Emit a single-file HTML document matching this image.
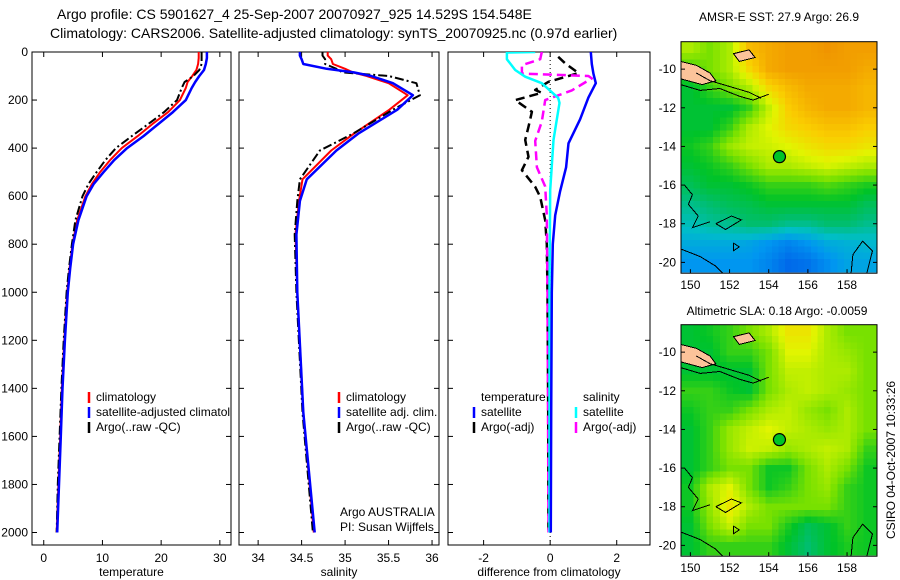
<!DOCTYPE html>
<html><head><meta charset="utf-8">
<style>
html,body{margin:0;padding:0;background:#fff;}
svg{display:block;font-family:"Liberation Sans",sans-serif;}
</style></head>
<body>
<svg id="fig" width="900" height="580" viewBox="0 0 900 580" xmlns="http://www.w3.org/2000/svg">
<rect width="900" height="580" fill="#fff"/>
<text x="57" y="19" font-size="14">Argo profile: CS 5901627_4 25-Sep-2007 20070927_925 14.529S 154.548E</text>
<text x="50" y="38" font-size="14">Climatology: CARS2006. Satellite-adjusted climatology: synTS_20070925.nc (0.97d earlier)</text>
<text x="779" y="21" font-size="12" text-anchor="middle">AMSR-E SST: 27.9  Argo: 26.9</text>
<text x="777" y="315" font-size="12" text-anchor="middle">Altimetric SLA: 0.18  Argo: -0.0059</text>
<text transform="translate(895,460) rotate(-90)" font-size="12" text-anchor="middle">CSIRO 04-Oct-2007 10:33:26</text>
<g id="plots"></g>
</svg>
<script>
// ---------- data ----------
const tDepth = [0,25,50,75,100,125,150,200,250,300,350,400,450,500,550,600,700,800,900,1000,1200,1400,1600,1800,2000];
const tSat   = [27.8,27.8,27.6,27.3,26.5,25.8,25.2,24.2,22,19.5,17,14.2,12,10.2,8.5,7.3,5.9,5.0,4.5,4.1,3.6,3.2,2.9,2.6,2.3];
const tClim  = [26.4,26.4,26.3,26.0,25.3,24.5,24.2,23.2,21.2,18.5,16,13.3,11.3,9.6,8.2,7.1,5.7,4.9,4.4,4.0,3.5,3.1,2.8,2.5,2.2];
const tArgo  = [26.9,26.9,26.9,26.5,25.5,24,23.5,22.7,20.5,17.8,15,12.3,10.5,9,7.6,6.6,5.4,4.8,4.3,3.9,3.4,3.0,2.7,2.4,2.2];

const sDepth = [0,15,30,50,70,85,100,130,180,240,340,410,530,620,760,1000,1500,2000];
const sSat   = [34.48,34.48,34.5,34.52,34.79,35.1,35.3,35.55,35.78,35.6,35.15,34.9,34.56,34.48,34.44,34.45,34.52,34.65];
const sClim  = [34.80,34.80,34.84,34.86,35.0,35.09,35.25,35.5,35.72,35.51,35.1,34.84,34.51,34.47,34.43,34.45,34.52,34.64];
const sArgo  = [34.74,34.74,34.77,34.77,34.9,34.97,35.5,35.82,35.86,35.55,35.09,34.71,34.48,34.45,34.42,34.44,34.51,34.63];

const dTSatDepth = [0,50,90,130,190,280,380,480,580,680,800,1000,1500,2000];
const dTSat      = [1.22,1.25,1.3,1.37,1.15,0.9,0.55,0.48,0.3,0.15,0.08,0.05,0.03,0.02];
const dTArgoDepth = [20,47,88,124,158,170,200,249,311,366,436,492,561,603,700,800,1000,1500,2000];
const dTArgo      = [0.24,0.45,0.85,-0.05,-0.45,-0.25,-1.05,-0.55,-0.65,-0.75,-0.65,-0.85,-0.45,-0.3,-0.15,-0.1,-0.08,-0.06,-0.05];
const dSSatDepth = [0,2,30,75,103,130,191,212,366,575,1000,2000];
const dSSat      = [-0.45,-1.3,-1.3,-1.05,-0.75,-0.25,0.24,0.28,0.1,0.0,-0.02,-0.02];
const dSArgoDepth = [0,30,55,90,100,110,160,200,290,370,480,560,680,1000,2000];
const dSArgo      = [-0.25,-0.3,-0.85,-0.85,1.15,1.25,0.65,-0.15,-0.25,-0.45,-0.4,-0.15,-0.1,-0.08,-0.05];

const depthTicks = [0,200,400,600,800,1000,1200,1400,1600,1800,2000];
const tempTicks = [0,10,20,30];
const salTicks = [34,34.5,35,35.5,36];
const diffTicks = [-2,0,2];
const lonTicks = [150,152,154,156,158];
const latTicks = [-10,-12,-14,-16,-18,-20];

const sstGrid = [
[0.6,0.55,0.6,0.75,0.78,0.8,0.8,0.82,0.8,0.8],
[0.5,0.55,0.6,0.7,0.78,0.8,0.8,0.8,0.8,0.78],
[0.45,0.5,0.55,0.6,0.7,0.75,0.78,0.78,0.78,0.76],
[0.45,0.45,0.45,0.5,0.62,0.72,0.76,0.78,0.78,0.76],
[0.45,0.45,0.5,0.6,0.65,0.7,0.72,0.74,0.74,0.72],
[0.47,0.5,0.58,0.62,0.63,0.65,0.68,0.7,0.7,0.68],
[0.45,0.47,0.5,0.55,0.6,0.6,0.62,0.64,0.62,0.6],
[0.42,0.45,0.45,0.47,0.5,0.5,0.5,0.52,0.5,0.48],
[0.38,0.4,0.42,0.43,0.45,0.45,0.45,0.45,0.45,0.42],
[0.35,0.37,0.38,0.4,0.4,0.38,0.38,0.4,0.4,0.38],
[0.31,0.31,0.31,0.3,0.28,0.26,0.28,0.31,0.32,0.33],
[0.28,0.28,0.28,0.28,0.26,0.23,0.24,0.27,0.3,0.3]];
const slaGrid = [
[0.45,0.47,0.5,0.55,0.6,0.68,0.68,0.6,0.55,0.55],
[0.45,0.45,0.5,0.5,0.55,0.65,0.65,0.6,0.58,0.55],
[0.45,0.45,0.45,0.45,0.55,0.62,0.62,0.6,0.6,0.55],
[0.5,0.5,0.47,0.45,0.55,0.6,0.62,0.6,0.58,0.55],
[0.47,0.5,0.5,0.55,0.6,0.62,0.58,0.55,0.6,0.55],
[0.45,0.5,0.58,0.62,0.65,0.62,0.6,0.58,0.6,0.55],
[0.45,0.5,0.58,0.63,0.62,0.58,0.6,0.62,0.6,0.5],
[0.45,0.5,0.55,0.55,0.47,0.47,0.55,0.6,0.55,0.47],
[0.47,0.6,0.65,0.55,0.47,0.5,0.55,0.58,0.5,0.47],
[0.47,0.58,0.68,0.6,0.55,0.55,0.55,0.55,0.5,0.47],
[0.45,0.55,0.62,0.55,0.55,0.48,0.42,0.45,0.5,0.47],
[0.45,0.5,0.5,0.5,0.5,0.45,0.4,0.45,0.48,0.47]];
const argoLon = 154.548, argoLat = -14.529;

// ---------- helpers ----------
const NS='http://www.w3.org/2000/svg';
const root=document.getElementById('plots');
function mk(tag,attrs,parent){const e=document.createElementNS(NS,tag);for(const k in attrs)e.setAttribute(k,attrs[k]);(parent||root).appendChild(e);return e;}
const Y0=52, Y1=545, DMAX=2052;
const yD=d=>Y0+d*(Y1-Y0)/DMAX;

function panel(name,x0,x1,vmin,vmax,ticks,label,showY){
  const g=mk('g',{});
  
  
  const xv=v=>x0+(v-vmin)*(x1-x0)/(vmax-vmin);
  const fr=mk('rect',{x:x0,y:Y0,width:x1-x0,height:Y1-Y0,fill:'none',stroke:'#000','stroke-width':1},g);
  
  
  ticks.forEach(t=>{const x=xv(t);
    mk('line',{x1:x,x2:x,y1:Y0,y2:Y0+5,stroke:'#000'},g);
    mk('line',{x1:x,x2:x,y1:Y1,y2:Y1-5,stroke:'#000'},g);
    const tx=mk('text',{x:x,y:Y1+17,'font-size':12,'text-anchor':'middle'},g);tx.textContent=t;
    
    
  });
  depthTicks.forEach(d=>{const y=yD(d);
    mk('line',{x1:x0,x2:x0+5,y1:y,y2:y,stroke:'#000'},g);
    mk('line',{x1:x1,x2:x1-5,y1:y,y2:y,stroke:'#000'},g);
    if(showY){const tx=mk('text',{x:x0-4,y:y+4,'font-size':12,'text-anchor':'end'},g);tx.textContent=d;
      
      }
  });
  const lt=mk('text',{x:(x0+x1)/2,y:Y1+31,'font-size':12,'text-anchor':'middle'},g);lt.textContent=label;
  
  
  const cid='clip'+name;
  const cp=mk('clipPath',{id:cid},g);mk('rect',{x:x0,y:Y0,width:x1-x0,height:Y1-Y0},cp);
  const lines=mk('g',{'clip-path':'url(#'+cid+')'},g);
  return {g,xv,lines};
}
function series(p,depths,vals,color,w,dash,nm){
  const pts=depths.map((d,i)=>p.xv(vals[i]).toFixed(1)+','+yD(d).toFixed(1)).join(' ');
  const a={points:pts,fill:'none',stroke:color,'stroke-width':w,'stroke-linejoin':'round'};
  if(dash)a['stroke-dasharray']=dash;
  const e=mk('polyline',a,p.lines);
  
  
}
function legend(g,x,y,color,txt,nm){
  mk('line',{x1:x,x2:x,y1:y-9,y2:y+2,stroke:color,'stroke-width':2.5},g);
  const t=mk('text',{x:x+7,y:y,'font-size':12},g);t.textContent=txt;
  
  
}

// Temperature panel
const pT=panel('temperature-panel',32,231,-2,31.9,tempTicks,'temperature',true);
series(pT,tDepth,tClim,'#f00',2,null,'temp-climatology-line');
series(pT,tDepth,tArgo,'#000',2,'9,3,2,3','temp-argo-line');
series(pT,tDepth,tSat,'#00f',2.5,null,'temp-satellite-line');
const lgT=mk('g',{'clip-path':'url(#cliptemperature-panel)'},pT.g);
legend(lgT,89,401,'#f00','climatology','legend-climatology');
legend(lgT,89,416,'#00f','satellite-adjusted climatology','legend-satellite');
legend(lgT,89,431,'#000','Argo(..raw -QC)','legend-argo');

// Salinity panel
const pS=panel('salinity-panel',239,439,33.78,36.08,salTicks,'salinity',false);
series(pS,sDepth,sClim,'#f00',2,null,'sal-climatology-line');
series(pS,sDepth,sArgo,'#000',2,'9,3,2,3','sal-argo-line');
series(pS,sDepth,sSat,'#00f',2.5,null,'sal-satellite-line');
legend(pS.g,339,401,'#f00','climatology','legend-climatology');
legend(pS.g,339,416,'#00f','satellite adj. clim.','legend-satellite');
legend(pS.g,339,431,'#000','Argo(..raw -QC)','legend-argo');
let t1=mk('text',{x:340,y:516,'font-size':12},pS.g);t1.textContent='Argo AUSTRALIA';


let t2=mk('text',{x:340,y:531,'font-size':12},pS.g);t2.textContent='PI: Susan Wijffels';



// Difference panel
const pD=panel('difference-panel',448,650,-3.07,3.0,diffTicks,'difference from climatology',false);
const zl=mk('line',{x1:pD.xv(0),x2:pD.xv(0),y1:Y0,y2:Y1,stroke:'#000','stroke-width':1,'stroke-dasharray':'1,3'},pD.lines);


series(pD,dTArgoDepth,dTArgo,'#000',2.5,'9,5','diff-temp-argo-line');
series(pD,dSArgoDepth,dSArgo,'#f0f',2.5,'9,5','diff-sal-argo-line');
series(pD,dSSatDepth,dSSat,'#0ff',2.5,null,'diff-sal-satellite-line');
series(pD,dTSatDepth,dTSat,'#00f',2.5,null,'diff-temp-satellite-line');
let h1=mk('text',{x:481,y:401,'font-size':12},pD.g);h1.textContent='temperature';


let h2=mk('text',{x:583,y:401,'font-size':12},pD.g);h2.textContent='salinity';


legend(pD.g,474,416,'#00f','satellite','legend-temp-satellite');
legend(pD.g,474,431,'#000','Argo(-adj)','legend-temp-argo');
legend(pD.g,576,416,'#0ff','satellite','legend-sal-satellite');
legend(pD.g,576,431,'#f0f','Argo(-adj)','legend-sal-argo');

// ---------- maps ----------
const stops=[[0.2,[0,80,230]],[0.28,[0,150,240]],[0.34,[0,190,200]],[0.4,[0,190,110]],[0.46,[0,195,40]],[0.55,[120,225,0]],[0.65,[225,245,0]],[0.72,[250,205,0]],[0.8,[242,158,0]],[0.9,[230,110,0]]];
function cmap(v){
  if(v<=stops[0][0])return stops[0][1];
  for(let i=1;i<stops.length;i++){if(v<=stops[i][0]){const a=stops[i-1],b=stops[i],f=(v-a[0])/(b[0]-a[0]);
    return a[1].map((c,k)=>Math.round(c+(b[1][k]-c)*f));}}
  return stops[stops.length-1][1];
}
function sample(grid,r,c){
  r=Math.max(0,Math.min(grid.length-1,r));c=Math.max(0,Math.min(grid[0].length-1,c));
  const r0=Math.floor(r),c0=Math.floor(c),r1=Math.min(r0+1,grid.length-1),c1=Math.min(c0+1,grid[0].length-1);
  const fr=r-r0,fc=c-c0;
  return grid[r0][c0]*(1-fr)*(1-fc)+grid[r0][c1]*(1-fr)*fc+grid[r1][c0]*fr*(1-fc)+grid[r1][c1]*fr*fc;
}
function map(name,grid,top){
  const L=681,R=877,T=top,B=top+231.5;
  const lonMin=149.52,lonMax=159.53,latMax=-8.58,latMin=-20.56;
  const xl=lon=>L+(lon-lonMin)*(R-L)/(lonMax-lonMin);
  const yl=lat=>T+(latMax-lat)*(B-T)/(latMax-latMin);
  const g=mk('g',{});
  
  
  const cid='clip'+name;
  const cp=mk('clipPath',{id:cid},g);mk('rect',{x:L,y:T,width:R-L,height:B-T},cp);
  const cells=mk('g',{'clip-path':'url(#'+cid+')','shape-rendering':'crispEdges'},g);
  const sub=3;
  for(let r=0;r<grid.length*sub;r++){for(let c=0;c<grid[0].length*sub;c++){
    const lat=-8.5-r/sub, lon=149.5+c/sub;
    const v=sample(grid,(r+0.5)/sub-0.5,(c+0.5)/sub-0.5);
    const col=cmap(v);
    const x=xl(lon),y=yl(lat),w=xl(lon+1/sub)-x+0.5,h=yl(lat-1/sub)-y+0.5;
    const cell=mk('rect',{x:x.toFixed(1),y:y.toFixed(1),width:w.toFixed(1),height:h.toFixed(1),fill:'rgb('+col.join(',')+')'},cells);
    
    
  }}
  const land=mk('polygon',{points:[[149.5,-9.6],[150.3,-9.8],[151.0,-10.2],[151.3,-10.6],[150.6,-10.8],[149.5,-10.5]].map(p=>xl(p[0])+','+yl(p[1])).join(' '),fill:'#fcc39a',stroke:'#000','stroke-width':1},cells);
  
  
  const isl=mk('polygon',{points:[[152.2,-9.2],[153.0,-9.0],[153.3,-9.4],[152.5,-9.6]].map(p=>xl(p[0])+','+yl(p[1])).join(' '),fill:'#fcc39a',stroke:'#000','stroke-width':1},cells);
  
  
  const coast=[
    [[149.5,-10.8],[150.5,-11.1],[151.5,-11.0],[152.5,-11.4],[153.2,-11.6],[154.0,-11.3]],
    [[150.3,-10.2],[151.0,-10.6],[152.0,-10.9],[153.0,-11.2],[153.6,-11.5]],
    [[149.7,-16.0],[150.1,-16.5],[149.9,-17.0],[150.4,-17.6],[150.1,-18.2],[151.0,-17.9]],
    [[151.3,-18.0],[152.1,-17.6],[152.6,-17.8],[151.8,-18.3],[151.3,-18.0]],
    [[149.5,-19.3],[150.5,-19.7],[151.3,-20.2],[151.7,-20.6]],
    [[158.2,-20.6],[158.3,-19.6],[158.8,-18.9],[159.3,-19.4],[159.0,-20.6]],
    [[152.2,-19.0],[152.5,-19.2],[152.2,-19.4],[152.2,-19.0]]];
  coast.forEach(cl=>{const e=mk('polyline',{points:cl.map(p=>xl(p[0]).toFixed(1)+','+yl(p[1]).toFixed(1)).join(' '),fill:'none',stroke:'#000','stroke-width':1},cells);
    
    });
  const dot=mk('circle',{cx:xl(argoLon),cy:yl(argoLat),r:6,fill:'rgb(0,195,40)',stroke:'#000','stroke-width':1.2},g);
  
  
  const fr=mk('rect',{x:L,y:T,width:R-L,height:B-T,fill:'none',stroke:'#000'},g);
  
  
  lonTicks.forEach(t=>{const x=xl(t);
    mk('line',{x1:x,x2:x,y1:B,y2:B-4,stroke:'#000'},g);
    const tx=mk('text',{x:x,y:B+16,'font-size':12,'text-anchor':'middle'},g);tx.textContent=t;
    
    });
  latTicks.forEach(t=>{const y=yl(t);
    mk('line',{x1:R,x2:R-4,y1:y,y2:y,stroke:'#000'},g);
    mk('line',{x1:L,x2:L+4,y1:y,y2:y,stroke:'#000'},g);
    const tx=mk('text',{x:L-5,y:y+4,'font-size':12,'text-anchor':'end'},g);tx.textContent=t;
    
    });
}
map('sst-map',sstGrid,41.7);
map('sla-map',slaGrid,324.7);
</script>
</body></html>
